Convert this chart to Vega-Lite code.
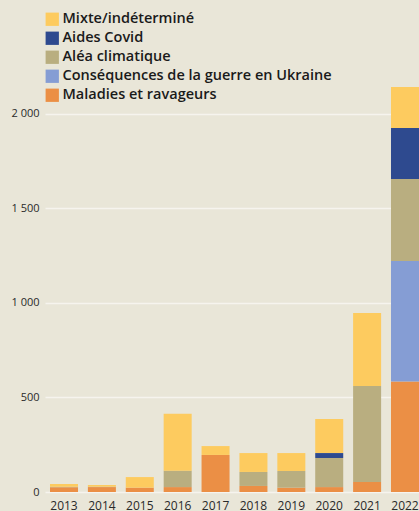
{
  "$schema": "https://vega.github.io/schema/vega-lite/v6.json",
  "width": 374,
  "height": 492,
  "autosize": {"type": "none"},
  "padding": {"left": 45, "top": 0, "right": 0, "bottom": 19},
  "background": "#E9E6D8",
  "config": {
    "view": {"stroke": null},
    "font": "Open Sans"
  },
  "data": {
    "values": [
      {"annee": "2013", "cause": "Maladies et ravageurs", "valeur": 25},
      {"annee": "2013", "cause": "Aléa climatique", "valeur": 3},
      {"annee": "2013", "cause": "Mixte/indéterminé", "valeur": 14},
      {"annee": "2014", "cause": "Maladies et ravageurs", "valeur": 26},
      {"annee": "2014", "cause": "Aléa climatique", "valeur": 2},
      {"annee": "2014", "cause": "Mixte/indéterminé", "valeur": 9},
      {"annee": "2015", "cause": "Maladies et ravageurs", "valeur": 23},
      {"annee": "2015", "cause": "Mixte/indéterminé", "valeur": 56},
      {"annee": "2016", "cause": "Maladies et ravageurs", "valeur": 26},
      {"annee": "2016", "cause": "Aléa climatique", "valeur": 87},
      {"annee": "2016", "cause": "Mixte/indéterminé", "valeur": 301},
      {"annee": "2017", "cause": "Maladies et ravageurs", "valeur": 196},
      {"annee": "2017", "cause": "Mixte/indéterminé", "valeur": 47},
      {"annee": "2018", "cause": "Maladies et ravageurs", "valeur": 32},
      {"annee": "2018", "cause": "Aléa climatique", "valeur": 74},
      {"annee": "2018", "cause": "Mixte/indéterminé", "valeur": 100},
      {"annee": "2019", "cause": "Maladies et ravageurs", "valeur": 23},
      {"annee": "2019", "cause": "Aléa climatique", "valeur": 88},
      {"annee": "2019", "cause": "Mixte/indéterminé", "valeur": 95},
      {"annee": "2020", "cause": "Maladies et ravageurs", "valeur": 26},
      {"annee": "2020", "cause": "Aléa climatique", "valeur": 154},
      {"annee": "2020", "cause": "Aides Covid", "valeur": 26},
      {"annee": "2020", "cause": "Mixte/indéterminé", "valeur": 180},
      {"annee": "2021", "cause": "Maladies et ravageurs", "valeur": 53},
      {"annee": "2021", "cause": "Aléa climatique", "valeur": 508},
      {"annee": "2021", "cause": "Mixte/indéterminé", "valeur": 386},
      {"annee": "2022", "cause": "Maladies et ravageurs", "valeur": 584},
      {"annee": "2022", "cause": "Conséquences de la guerre en Ukraine", "valeur": 638},
      {"annee": "2022", "cause": "Aléa climatique", "valeur": 434},
      {"annee": "2022", "cause": "Aides Covid", "valeur": 270},
      {"annee": "2022", "cause": "Mixte/indéterminé", "valeur": 217}
    ]
  },
  "transform": [
    {"calculate": "indexof(['Maladies et ravageurs','Conséquences de la guerre en Ukraine','Aléa climatique','Aides Covid','Mixte/indéterminé'], datum.cause)", "as": "rang"}
  ],
  "mark": {"type": "bar"},
  "encoding": {
    "x": {
      "field": "annee",
      "type": "ordinal",
      "scale": {"paddingInner": 0.2607, "paddingOuter": 0.066, "align": 1},
      "axis": {
        "title": null,
        "domain": false,
        "ticks": false,
        "labelAngle": 0,
        "labelFontSize": 12,
        "labelColor": "#2a2a2a",
        "labelPadding": 8
      }
    },
    "y": {
      "field": "valeur",
      "type": "quantitative",
      "stack": "zero",
      "scale": {"domain": [0, 2603], "nice": false, "zero": true},
      "axis": {
        "title": null,
        "domain": false,
        "ticks": false,
        "values": [0, 500, 1000, 1500, 2000],
        "labelExpr": "replace(format(datum.value, ',d'), ',', ' ')",
        "labelFontSize": 11,
        "labelColor": "#2a2a2a",
        "labelPadding": 6,
        "gridColor": "#F6F4EE",
        "gridWidth": 1.5
      }
    },
    "color": {
      "field": "cause",
      "type": "nominal",
      "scale": {
        "domain": ["Mixte/indéterminé", "Aides Covid", "Aléa climatique", "Conséquences de la guerre en Ukraine", "Maladies et ravageurs"],
        "range": ["#FDCB5F", "#2E4A8F", "#B9AE80", "#859DD4", "#EB8F45"]
      },
      "legend": {
        "title": null,
        "orient": "none",
        "legendX": 0,
        "legendY": 12,
        "symbolType": "square",
        "symbolSize": 177,
        "symbolStrokeWidth": 0,
        "symbolOpacity": 1,
        "labelFontSize": 14.5,
        "labelFontWeight": 600,
        "labelColor": "#1a1a1a",
        "labelOffset": 3,
        "rowPadding": 4,
        "labelLimit": 400
      }
    },
    "order": {"field": "rang", "type": "quantitative", "sort": "ascending"}
  }
}
